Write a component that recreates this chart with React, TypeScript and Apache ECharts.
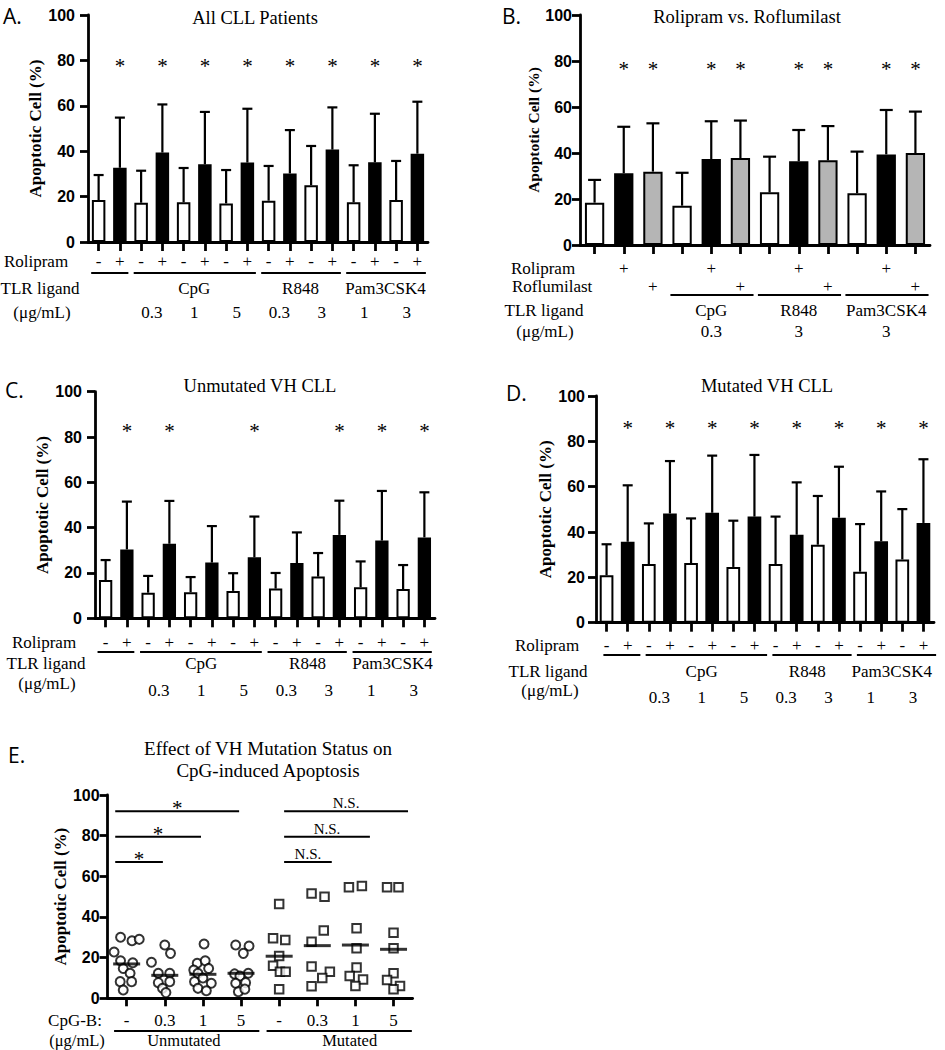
import React, { useEffect, useRef } from "react";
import * as echarts from "echarts";

const SERIF = "Liberation Serif";
const SANS = "Liberation Sans";
const LETTER_FONT = "Open Sans";

// ---------------- shared labels ----------------
const yAxisTitle = "Apoptotic Cell (%)";
const rolipramSigns = ["-", "+", "-", "+", "-", "+", "-", "+", "-", "+", "-", "+", "-", "+", "-", "+"];
const tlrGroups = [
  { name: "", from: 0, to: 1 },
  { name: "CpG", from: 2, to: 7 },
  { name: "R848", from: 8, to: 11 },
  { name: "Pam3CSK4", from: 12, to: 15 },
];
const tlrDoses = ["", "0.3", "1", "5", "0.3", "3", "1", "3"]; // one per -/+ pair
const headerTreatment = "Rolipram";
const headerTreatment2 = "Roflumilast";
const headerLigand = "TLR ligand";
const headerUnit = "(μg/mL)";

// ---------------- panel A ----------------
const titleA = "All CLL Patients";
const meanA = [18.5, 32.7, 17.3, 39.4, 17.5, 34.2, 17.0, 35.0, 18.2, 30.2, 25.0, 40.7, 17.5, 35.1, 18.5, 38.9];
const sdA = [11.0, 22.1, 14.1, 21.2, 15.1, 23.1, 14.7, 23.7, 15.3, 19.1, 17.3, 18.6, 16.3, 21.4, 17.2, 22.9];
const sigA = [0, 1, 0, 1, 0, 1, 0, 1, 0, 1, 0, 1, 0, 1, 0, 1];

// ---------------- panel B ----------------
const titleB = "Rolipram vs. Roflumilast";
const rolipramB = ["", "+", "", "", "+", "", "", "+", "", "", "+", ""];
const roflumilastB = ["", "", "+", "", "", "+", "", "", "+", "", "", "+"];
const meanB = [18.4, 31.2, 31.9, 17.1, 37.4, 37.8, 22.9, 36.4, 36.8, 22.5, 39.4, 40.0];
const sdB = [9.9, 20.2, 21.0, 14.3, 16.4, 16.3, 15.5, 13.6, 14.9, 18.1, 19.3, 18.0];
const sigB = [0, 1, 1, 0, 1, 1, 0, 1, 1, 0, 1, 1];
const tlrGroupsB = [
  { name: "CpG", from: 3, to: 5 },
  { name: "R848", from: 6, to: 8 },
  { name: "Pam3CSK4", from: 9, to: 11 },
];
const tlrDosesB = ["0.3", "3", "3"];

// ---------------- panel C ----------------
const titleC = "Unmutated VH CLL";
const meanC = [16.9, 30.4, 11.3, 32.9, 11.5, 24.6, 12.1, 26.9, 13.1, 24.4, 18.4, 36.8, 13.7, 34.3, 12.9, 35.7];
const sdC = [8.8, 21.1, 7.4, 18.9, 6.7, 16.1, 7.8, 18.0, 6.9, 13.5, 10.4, 15.1, 11.4, 21.9, 10.6, 19.9];
const sigC = [0, 1, 0, 1, 0, 0, 0, 1, 0, 0, 0, 1, 0, 1, 0, 1];

// ---------------- panel D ----------------
const titleD = "Mutated VH CLL";
const meanD = [20.9, 35.7, 25.9, 48.2, 26.3, 48.5, 24.6, 46.8, 25.9, 38.8, 34.4, 46.3, 22.5, 35.9, 27.9, 44.0];
const sdD = [13.7, 24.9, 17.9, 23.1, 19.7, 25.2, 20.4, 27.2, 20.9, 23.1, 21.5, 22.5, 21.0, 22.0, 22.2, 28.1];
const sigD = [0, 1, 0, 1, 0, 1, 0, 1, 0, 1, 0, 1, 0, 1, 0, 1];

// ---------------- panel E ----------------
const titleE = ["Effect of VH Mutation Status on", "CpG-induced Apoptosis"];
const headerE = "CpG-B:";
const cpgDoses = ["-", "0.3", "1", "5", "-", "0.3", "1", "5"];
const vhGroups = [
  { name: "Unmutated", from: 0, to: 3 },
  { name: "Mutated", from: 4, to: 7 },
];
// [dose category, horizontal scatter offset (category units), apoptotic %]
const unmutatedPoints = [
  [0, -0.33, 22.8], [0, -0.16, 30.0], [0, 0.14, 28.3], [0, 0.33, 29.0], [0, -0.16, 18.5], [0, 0.16, 17.5],
  [0, -0.09, 14.7], [0, 0.09, 12.3], [0, -0.17, 8.2], [0, 0.13, 8.2], [0, -0.09, 4.1],
  [1, -0.35, 17.7], [1, 0.0, 26.2], [1, 0.15, 22.1], [1, -0.17, 12.3], [1, 0.13, 12.3], [1, -0.17, 7.7],
  [1, 0.13, 8.2], [1, -0.06, 4.9], [1, 0.03, 2.8],
  [2, 0.03, 26.7], [2, -0.15, 17.2], [2, 0.06, 18.5], [2, -0.24, 13.9], [2, 0.15, 14.7], [2, -0.13, 12.3],
  [2, -0.22, 8.2], [2, 0.22, 7.4], [2, -0.13, 4.9], [2, 0.09, 3.7], [2, 0.0, 10.0],
  [3, -0.14, 26.2], [3, 0.21, 25.7], [3, 0.06, 22.1], [3, -0.17, 12.0], [3, 0.19, 12.3], [3, -0.03, 11.0],
  [3, -0.14, 7.4], [3, 0.12, 7.7], [3, -0.07, 3.2], [3, 0.1, 4.5],
];
const mutatedPoints = [
  [4, 0.0, 46.4], [4, -0.16, 29.5], [4, 0.16, 28.7], [4, 0.0, 20.8], [4, -0.16, 16.0], [4, 0.02, 13.0],
  [4, 0.17, 13.0], [4, 0.0, 4.4],
  [5, -0.15, 51.6], [5, 0.19, 50.0], [5, 0.17, 33.3], [5, -0.15, 27.8], [5, -0.15, 15.6], [5, 0.33, 13.0],
  [5, 0.13, 10.0], [5, -0.15, 5.9],
  [6, -0.17, 54.6], [6, 0.17, 55.2], [6, 0.03, 34.4], [6, 0.03, 24.6], [6, 0.03, 15.2], [6, -0.15, 11.0],
  [6, 0.2, 9.3], [6, 0.0, 6.0],
  [7, -0.17, 54.6], [7, 0.13, 54.6], [7, 0.0, 32.3], [7, 0.0, 24.6], [7, 0.0, 12.3], [7, -0.17, 9.0],
  [7, 0.17, 6.0], [7, 0.0, 4.4],
];
const meanE = [16.9, 11.3, 11.8, 12.3, 20.7, 25.9, 26.2, 24.1];
const sigE = [
  { from: 0, to: 3, level: 92, label: "*" },
  { from: 0, to: 2, level: 79.5, label: "*" },
  { from: 0, to: 1, level: 67, label: "*" },
  { from: 4, to: 7, level: 92, label: "N.S." },
  { from: 4, to: 6, level: 79.5, label: "N.S." },
  { from: 4, to: 5, level: 67, label: "N.S." },
];

// ---------------- layout (pixels) ----------------
const LA = {
  letter: "A.", letterX: 3, letterY: 16, title: titleA, titleX: 255, titleY: 18,
  left: 88, top: 15, width: 340, height: 227, barWidth: 13.5, cap: 10, nameGap: 41, nameSize: 17, labelMargin: 13,
  starLevel: 79, signRow: 19.5, lineRow: 31, groupRow: 46, unitRow: 70.3, concRow: 70.3, pad: [-0.35, 0.4],
  headerX: [36, 40, 42],
};
const LB = {
  letter: "B.", letterX: 502, letterY: 16, title: titleB, titleX: 747, titleY: 17,
  left: 580, top: 15, width: 350, height: 230, barWidth: 19.3, cap: 13, nameGap: 36, nameSize: 15.5, labelMargin: 8,
  starLevel: 78, signRow: 23, sign2Row: 41, lineRow: 50, groupRow: 65, unitRow: 86, concRow: 86, pad: [-0.4, 0.45],
  headerX: [543, 544, 545], header2Left: 512,
};
const LC = {
  letter: "C.", letterX: 5, letterY: 390, title: titleC, titleX: 260, titleY: 386,
  left: 95, top: 391.7, width: 340, height: 226.6, barWidth: 13.3, cap: 10, nameGap: 38, nameSize: 17, labelMargin: 13,
  starLevel: 84, signRow: 23.7, lineRow: 33.7, groupRow: 44.7, unitRow: 64.7, concRow: 71.7, pad: [-0.38, 0.35],
  headerX: [44, 46, 47],
};
const LD = {
  letter: "D.", letterX: 506, letterY: 393, title: titleD, titleX: 767, titleY: 386,
  left: 596, top: 396, width: 338, height: 226.7, barWidth: 13.7, cap: 10, nameGap: 38, nameSize: 17, labelMargin: 11,
  starLevel: 87, signRow: 22.3, lineRow: 32.3, groupRow: 48.3, unitRow: 67.3, concRow: 74.3, pad: [-0.15, 0.6],
  headerX: [547, 548, 550],
};
const LE = {
  letter: "E.", letterX: 8, letterY: 755, titleX: 268, titleY: [748, 770],
  left: 107.6, top: 795, width: 305, height: 203.3, nameGap: 39, nameSize: 17, labelMargin: 8,
  signRow: 21.7, lineRow: 32.7, groupRow: 42.5, pad: [-0.33, 0.48], groupShift: [0, 0.35], headerX: [75, 77],
  sigPadLow: [-0.3, -0.05], sigPadHigh: [0.13, 0.38],
};

// ---------------- helpers ----------------
function txt(text: string, x: number, y: number, size: number, o: any = {}) {
  return {
    type: "text", x, y, silent: true,
    style: {
      text, fill: "#000",
      fontFamily: o.family || SERIF, fontSize: size, fontWeight: o.weight || "normal",
      textAlign: o.align || "center", textVerticalAlign: "middle",
    },
  };
}
function seg(x1: number, y1: number, x2: number, y2: number, w = 2) {
  return { type: "line", silent: true, shape: { x1, y1, x2, y2 }, style: { stroke: "#000", lineWidth: w } };
}
const axisStyle = { color: "#000", width: 2.8 };

function valueAxis(gi: number, L: any) {
  return {
    type: "value", gridIndex: gi, min: 0, max: 100, interval: 20,
    name: yAxisTitle, nameLocation: "middle", nameGap: L.nameGap, nameRotate: 90,
    nameTextStyle: { fontFamily: SERIF, fontWeight: "bold", fontSize: L.nameSize, color: "#000" },
    axisLine: { show: true, onZero: false, lineStyle: axisStyle },
    axisTick: { show: true, length: 8, lineStyle: axisStyle },
    axisLabel: { fontFamily: SANS, fontWeight: "bold", fontSize: 16, color: "#000", margin: L.labelMargin },
    splitLine: { show: false },
  };
}

function errorBarRenderer(cap: number) {
  return (params: any, api: any) => {
    const x = api.value(0), m = api.value(1), s = api.value(2);
    const base = api.coord([x, m]);
    const top = api.coord([x, m + s]);
    return {
      type: "group",
      children: [
        { type: "line", shape: { x1: base[0], y1: base[1], x2: top[0], y2: top[1] }, style: { stroke: "#000", lineWidth: 2.2 } },
        { type: "line", shape: { x1: top[0] - cap / 2, y1: top[1], x2: top[0] + cap / 2, y2: top[1] }, style: { stroke: "#000", lineWidth: 2.2 } },
      ],
    };
  };
}
function starRenderer(params: any, api: any) {
  const p = api.coord([api.value(0), api.value(1)]);
  return {
    type: "text", x: p[0], y: p[1] + 3,
    style: { text: "*", fill: "#000", fontFamily: SERIF, fontSize: 21, textAlign: "center", textVerticalAlign: "middle" },
  };
}

function buildOption() {
  const grid: any[] = [], xAxis: any[] = [], yAxis: any[] = [], series: any[] = [], graphic: any[] = [];

  function barPanel(L: any, means: number[], sds: number[], sig: number[], fills: string[], labels: string[], labels2?: string[]) {
    const gi = grid.length;
    grid.push({ left: L.left, top: L.top, width: L.width, height: L.height });
    const xi = xAxis.length;
    xAxis.push({
      type: "category", gridIndex: gi, position: "bottom", data: labels, boundaryGap: true,
      axisLine: { show: true, onZero: false, lineStyle: axisStyle },
      axisTick: { show: true, alignWithLabel: true, length: 9, lineStyle: axisStyle },
      axisLabel: { interval: 0, margin: L.signRow, verticalAlign: "middle", fontFamily: SERIF, fontSize: 17, color: "#000" },
    });
    if (labels2) {
      xAxis.push({
        type: "category", gridIndex: gi, position: "bottom", data: labels2, boundaryGap: true,
        axisLine: { show: false, onZero: false }, axisTick: { show: false },
        axisLabel: { interval: 0, margin: L.sign2Row, verticalAlign: "middle", fontFamily: SERIF, fontSize: 17, color: "#000" },
      });
    }
    const yi = yAxis.length;
    yAxis.push(valueAxis(gi, L));
    series.push({
      type: "bar", xAxisIndex: xi, yAxisIndex: yi, barWidth: L.barWidth,
      data: means.map((v, i) => ({ value: v, itemStyle: { color: fills[i], borderColor: "#000", borderWidth: 2 } })),
    });
    series.push({
      type: "custom", xAxisIndex: xi, yAxisIndex: yi, z: 5,
      data: means.map((v, i) => [i, v, sds[i]]),
      encode: { x: 0, y: 1 },
      renderItem: errorBarRenderer(L.cap),
    });
    series.push({
      type: "custom", xAxisIndex: xi, yAxisIndex: yi, z: 5,
      data: sig.map((s, i) => [i, s ? L.starLevel : -1]).filter((d) => d[1] >= 0),
      encode: { x: 0, y: 1 },
      renderItem: starRenderer,
    });
    graphic.push(txt(L.letter, L.letterX, L.letterY, 21, { family: LETTER_FONT, align: "left" }));
    graphic.push(txt(L.title, L.titleX, L.titleY, 18.5));
    const n = means.length;
    const cw = L.width / n;
    const cx = (i: number) => L.left + (i + 0.5) * cw;
    const axisY = L.top + L.height;
    return { cx, cw, axisY };
  }

  // ---- A, C, D (same layout of labels) ----
  const panelsACD: [any, number[], number[], number[]][] = [
    [LA, meanA, sdA, sigA],
    [LC, meanC, sdC, sigC],
    [LD, meanD, sdD, sigD],
  ];
  for (const [L, m, s, g] of panelsACD) {
    const fills = rolipramSigns.map((r) => (r === "+" ? "#000" : "#fff"));
    const { cx, cw, axisY } = barPanel(L, m, s, g, fills, rolipramSigns);
    graphic.push(txt(headerTreatment, L.headerX[0], axisY + L.signRow, 17));
    graphic.push(txt(headerLigand, L.headerX[1], axisY + L.groupRow, 17));
    graphic.push(txt(headerUnit, L.headerX[2], axisY + L.unitRow, 17));
    for (const grp of tlrGroups) {
      graphic.push(seg(cx(grp.from) + L.pad[0] * cw, axisY + L.lineRow, cx(grp.to) + L.pad[1] * cw, axisY + L.lineRow));
      if (grp.name) graphic.push(txt(grp.name, (cx(grp.from) + cx(grp.to)) / 2, axisY + L.groupRow, 17));
    }
    tlrDoses.forEach((d, k) => {
      if (d) graphic.push(txt(d, (cx(2 * k) + cx(2 * k + 1)) / 2, axisY + L.concRow, 17));
    });
  }

  // ---- B ----
  {
    const L = LB;
    const fills = rolipramB.map((r, i) => (r === "+" ? "#000" : roflumilastB[i] === "+" ? "#b5b5b5" : "#fff"));
    const { cx, cw, axisY } = barPanel(L, meanB, sdB, sigB, fills, rolipramB, roflumilastB);
    graphic.push(txt(headerTreatment, L.headerX[0], axisY + L.signRow, 17));
    graphic.push(txt(headerTreatment2, L.header2Left, axisY + L.sign2Row, 17, { align: "left" }));
    graphic.push(txt(headerLigand, L.headerX[1], axisY + L.groupRow, 17));
    graphic.push(txt(headerUnit, L.headerX[2], axisY + L.unitRow, 17));
    tlrGroupsB.forEach((grp, k) => {
      graphic.push(seg(cx(grp.from) + L.pad[0] * cw, axisY + L.lineRow, cx(grp.to) + L.pad[1] * cw, axisY + L.lineRow));
      graphic.push(txt(grp.name, (cx(grp.from) + cx(grp.to)) / 2, axisY + L.groupRow, 17));
      graphic.push(txt(tlrDosesB[k], (cx(grp.from) + cx(grp.to)) / 2, axisY + L.concRow, 17));
    });
  }

  // ---- E ----
  {
    const L = LE;
    const gi = grid.length;
    grid.push({ left: L.left, top: L.top, width: L.width, height: L.height });
    xAxis.push({
      type: "category", gridIndex: gi, position: "bottom", data: cpgDoses, boundaryGap: true,
      axisLine: { show: true, onZero: false, lineStyle: axisStyle },
      axisTick: { show: true, alignWithLabel: true, length: 8, lineStyle: axisStyle },
      axisLabel: { interval: 0, margin: L.signRow, verticalAlign: "middle", fontFamily: SERIF, fontSize: 17, color: "#000" },
    });
    const xiVal = xAxis.length;
    xAxis.push({ type: "value", gridIndex: gi, position: "bottom", min: -0.5, max: 7.5, show: false });
    const yi = yAxis.length;
    yAxis.push(valueAxis(gi, L));
    const pointStyle = { color: "#fff", borderColor: "#000", borderWidth: 2 };
    series.push({
      type: "scatter", xAxisIndex: xiVal, yAxisIndex: yi, symbol: "circle", symbolSize: 9, itemStyle: pointStyle,
      data: unmutatedPoints.map(([c, j, v]) => [c + j, v]),
    });
    series.push({
      type: "scatter", xAxisIndex: xiVal, yAxisIndex: yi, symbol: "rect", symbolSize: 8.5, itemStyle: pointStyle,
      data: mutatedPoints.map(([c, j, v]) => [c + j, v]),
    });
    series.push({
      type: "scatter", xAxisIndex: xiVal, yAxisIndex: yi, symbol: "rect", symbolSize: [27, 3], z: 4,
      itemStyle: { color: "#000" },
      data: meanE.map((v, i) => [i, v]),
    });
    series.push({
      type: "custom", xAxisIndex: xiVal, yAxisIndex: yi, z: 5,
      data: sigE.map((s) => {
        const pad = s.from < 4 ? L.sigPadLow : L.sigPadHigh;
        return [s.from + pad[0], s.level, s.to + pad[1]];
      }),
      encode: { x: 0, y: 1 },
      renderItem: (params: any, api: any) => {
        const s = sigE[params.dataIndex];
        const p1 = api.coord([api.value(0), api.value(1)]);
        const p2 = api.coord([api.value(2), api.value(1)]);
        const isStar = s.label === "*";
        return {
          type: "group",
          children: [
            { type: "line", shape: { x1: p1[0], y1: p1[1], x2: p2[0], y2: p2[1] }, style: { stroke: "#000", lineWidth: 2 } },
            {
              type: "text", x: (p1[0] + p2[0]) / 2, y: p1[1] - (isStar ? 3 : 8),
              style: { text: s.label, fill: "#000", fontFamily: SERIF, fontSize: isStar ? 21 : 15, textAlign: "center", textVerticalAlign: "middle" },
            },
          ],
        };
      },
    });
    const cw = L.width / cpgDoses.length;
    const cx = (i: number) => L.left + (i + 0.5) * cw;
    const axisY = L.top + L.height;
    graphic.push(txt(L.letter, L.letterX, L.letterY, 21, { family: LETTER_FONT, align: "left" }));
    graphic.push(txt(titleE[0], L.titleX, L.titleY[0], 19));
    graphic.push(txt(titleE[1], L.titleX, L.titleY[1], 19));
    graphic.push(txt(headerE, L.headerX[0], axisY + L.signRow, 17));
    graphic.push(txt(headerUnit, L.headerX[1], axisY + L.groupRow, 16.5));
    vhGroups.forEach((grp, k) => {
      graphic.push(seg(cx(grp.from) + L.pad[0] * cw, axisY + L.lineRow, cx(grp.to) + L.pad[1] * cw, axisY + L.lineRow));
      graphic.push(txt(grp.name, (cx(grp.from) + cx(grp.to)) / 2 + L.groupShift[k] * cw, axisY + L.groupRow, 16.5));
    });
  }

  return { animation: false, backgroundColor: "#fff", grid, xAxis, yAxis, series, graphic };
}

export default function App() {
  const ref = useRef<HTMLDivElement>(null);
  useEffect(() => {
    if (!ref.current) return;
    const chart = echarts.init(ref.current, null, { renderer: "svg" });
    chart.setOption(buildOption() as any);
    return () => chart.dispose();
  }, []);
  return (
    <div
      ref={ref}
      style={{ position: "absolute", left: 0, top: 0, width: 945, height: 1050, background: "#fff" }}
    />
  );
}
